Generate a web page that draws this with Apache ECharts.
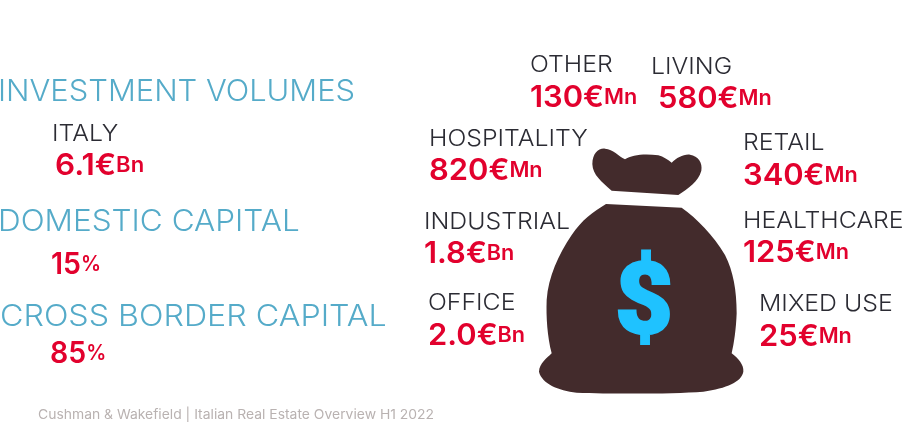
<!DOCTYPE html>
<html><head><meta charset="utf-8">
<style>html,body{margin:0;padding:0;background:#fff}#c{width:913px;height:426px}</style>
<script src="https://cdn.jsdelivr.net/npm/echarts@6/dist/echarts.min.js"></script>
</head><body><div id="c"></div>
<script>
// Values
const headlines = ['INVESTMENT VOLUMES','DOMESTIC CAPITAL','CROSS BORDER CAPITAL'];
const italyLabel = 'ITALY';
const italyValue = '6.1';
const italyUnit = 'Bn';
const domesticShare = '15';
const crossBorderShare = '85';
const sectors = ['OTHER','LIVING','HOSPITALITY','RETAIL','INDUSTRIAL','HEALTHCARE','OFFICE','MIXED USE'];
const sectorValues = ['130','580','820','340','1.8','125','2.0','25'];
const sectorUnits = ['Mn','Mn','Mn','Mn','Bn','Mn','Bn','Mn'];
const footer = 'Cushman & Wakefield | Italian Real Estate Overview H1 2022';

// Layout (page pixels)
const sectorLabelPos = [[530,65],[651,67],[429,139],[743,143],[424,222],[743,221],[428,303],[759,304]];
const sectorValuePos = [[530,98],[658,99],[429,171],[743,176],[424,254],[743,253],[428,336],[759,337]];
const headlinePos = [[-2,92],[-2,222],[0,317]];
const headlineScale = [1.03,1.05,1.074];

const FONT = 'Inter';
const RED = '#e2012d', BLUE = '#55abc9', DARK = '#2b2b33', BAG = '#432b2c';
const rich = {
  n:{fontFamily:FONT,fontSize:30,fontWeight:600,fill:RED,color:RED},
  u:{fontFamily:FONT,fontSize:21,fontWeight:600,fill:RED,color:RED}
};
function txt(x,y,sx,style){
  return {type:'text',x:x,y:y,scaleX:sx,silent:true,style:Object.assign({verticalAlign:'middle',align:'left',fontFamily:FONT},style)};
}
const labelStyle = s => ({text:s,fontSize:23,fontWeight:300,fill:DARK});
const valueStyle = (v,u) => ({text:'{n|'+v+'}{u|'+u+'}',rich:rich});

const elements = [];
headlines.forEach((h,i)=>elements.push(txt(headlinePos[i][0],headlinePos[i][1],headlineScale[i],{text:h,fontSize:30,fontWeight:300,fill:BLUE})));
elements.push(txt(52,134,1.08,labelStyle(italyLabel)));
elements.push(txt(55,166,1.05,valueStyle(italyValue+'€',italyUnit)));
elements.push(txt(51,265,0.95,valueStyle(domesticShare,'%')));
elements.push(txt(50,354,0.95,valueStyle(crossBorderShare,'%')));
sectors.forEach((s,i)=>{
  elements.push(txt(sectorLabelPos[i][0],sectorLabelPos[i][1],1.08,labelStyle(s)));
  elements.push(txt(sectorValuePos[i][0],sectorValuePos[i][1],1.03,valueStyle(sectorValues[i]+'€',sectorUnits[i])));
});
elements.push(txt(38,415,1.07,{text:footer,fontSize:13,fontWeight:400,fill:'#b9b2b1'}));

const knotPath = 'M187 72 C188 40 205 24 225 26 C250 28 265 48 285 58 C305 44 345 40 385 46 C400 50 415 60 425 68 C440 54 460 42 480 44 C505 48 518 68 514 92 C505 125 475 145 445 165 L245 152 C215 125 188 105 187 72 Z';
const bodyPath = 'M228 192 L455 203 C500 235 550 285 585 345 C610 395 620 450 620 520 C618 570 612 610 605 640 C625 655 642 675 640 695 C635 725 590 745 520 755 C430 762 250 762 140 758 C85 752 35 730 27 695 C28 670 50 655 65 640 C52 590 48 530 50 480 C55 410 85 345 125 285 C155 240 190 215 228 192 Z';

const chart = echarts.init(document.getElementById('c'),null,{renderer:'canvas'});
chart.setOption({
  animation:false,
  backgroundColor:'#fff',
  graphic:{elements:elements.concat([
    {type:'text',x:644,y:308,z:10,silent:true,style:{text:'$',fontFamily:'Roboto',fontWeight:900,fontSize:101,fill:'#1fc2ff',stroke:'#1fc2ff',lineWidth:2,align:'center',verticalAlign:'middle'}}
  ])},
  series:[{
    type:'custom',coordinateSystem:'none',silent:true,z:1,
    data:[[0]],
    renderItem:function(){
      return {type:'group',x:530,y:140,scaleX:1/3,scaleY:1/3,children:[
        {type:'path',shape:{pathData:knotPath},style:{fill:BAG}},
        {type:'path',shape:{pathData:bodyPath},style:{fill:BAG}}
      ]};
    }
  }]
});
</script></body></html>
